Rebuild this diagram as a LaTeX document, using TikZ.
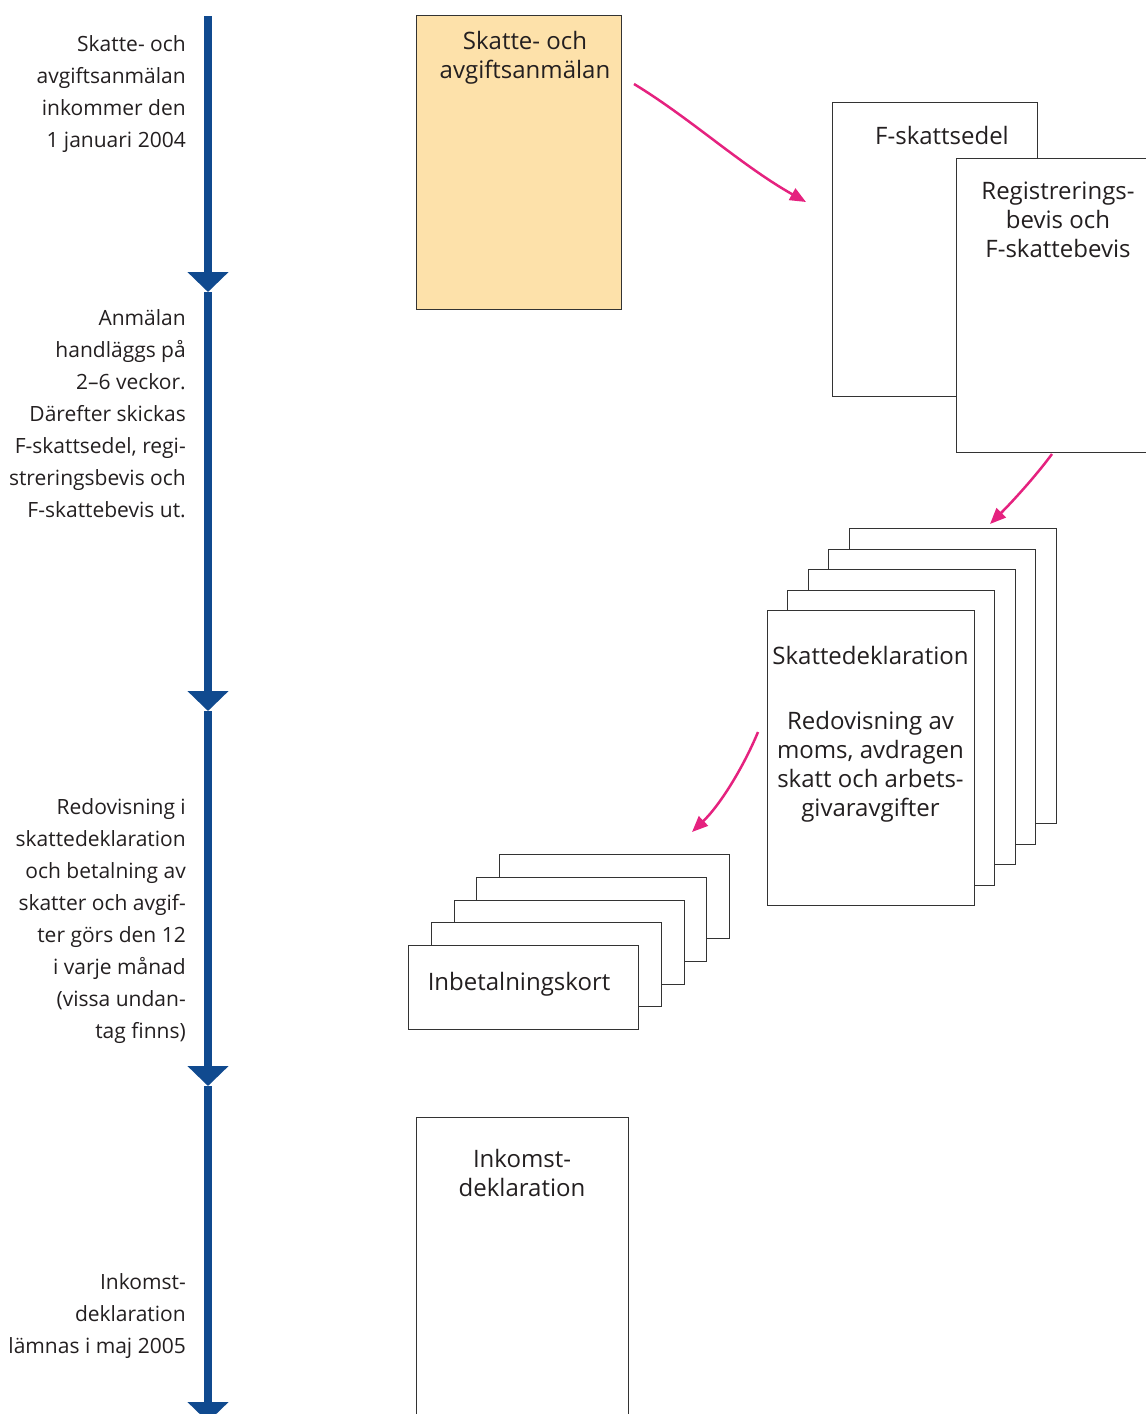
\documentclass[tikz,border=0pt]{standalone}
\usepackage{fontspec}
\setmainfont{Open Sans}
\usetikzlibrary{arrows.meta}
\definecolor{tlblue}{RGB}{16,74,143}
\definecolor{mag}{RGB}{229,34,127}
\definecolor{boxfill}{RGB}{253,225,170}
\definecolor{edge}{RGB}{51,51,51}
\definecolor{ink}{RGB}{35,31,32}
\begin{document}
\begin{tikzpicture}[x=1pt,y=-1pt,
  tl/.style={draw=tlblue,line width=8pt,-{Triangle[length=20pt,width=40pt]}},
  card/.style={draw=edge,line width=1.3pt,fill=white,rectangle,inner sep=0pt,anchor=north west},
  conn/.style={draw=mag,line width=2.5pt,-{Triangle[length=16pt,width=13pt]}},
  lefttxt/.style={anchor=north east,align=right,inner sep=0pt,text=ink,
    font=\fontsize{21}{32}\selectfont,execute at begin node=\strut},
  boxtxt/.style={anchor=north,align=center,inner sep=0pt,text=ink,
    font=\fontsize{24}{29}\selectfont,execute at begin node=\strut}]
\useasboundingbox (0,0) rectangle (1146,1414);
\clip (0,0) rectangle (1146,1414);

% timeline
\coordinate (t0) at (208,16);
\coordinate (t1) at (208,292);
\coordinate (t2) at (208,711);
\coordinate (t3) at (208,1086);
\coordinate (t4) at (208,1422);
\draw[tl] (t0) -- (t1);
\draw[tl] (t1) -- (t2);
\draw[tl] (t2) -- (t3);
\draw[tl] (t3) -- (t4);

% left texts
\node[lefttxt] (l1) at (186,35.6) {Skatte- och\\avgiftsanmälan\\inkommer den\\1 januari 2004};
\node[lefttxt] (l2) at (186,309.6) {Anmälan\\handläggs på\\2–6 veckor.\\Därefter skickas\\F-skattsedel, regi-\\streringsbevis och\\F-skattebevis ut.};
\node[lefttxt] (l3) at (186,798.6) {Redovisning i\\skattedeklaration\\och betalning av\\skatter och avgif-\\ter görs den 12\\i varje månad\\(vissa undan-\\tag finns)};
\node[lefttxt] (l4) at (186,1273.6) {Inkomst-\\deklaration\\lämnas i maj 2005};

% anmalan box
\node[card,fill=boxfill,minimum width=205pt,minimum height=294pt] (anm) at (416,15) {};
\node[boxtxt] (anmt) at (525,30.7) {Skatte- och\\avgiftsanmälan};

% F-skattsedel and registreringsbevis
\node[card,minimum width=205pt,minimum height=294pt] (fsk) at (832,102) {};
\node[boxtxt] (fskt) at (942,124.2) {F-skattsedel};
\node[card,minimum width=200pt,minimum height=294pt] (reg) at (956,158) {};
\node[boxtxt] (regt) at (1058,181.7) {Registrerings-\\bevis och\\F-skattebevis};

% Skattedeklaration stack
\node[card,minimum width=207pt,minimum height=295pt] (s5) at (849,528) {};
\node[card,minimum width=207pt,minimum height=295pt] (s4) at (828,548.5) {};
\node[card,minimum width=207pt,minimum height=295pt] (s3) at (808,569) {};
\node[card,minimum width=207pt,minimum height=295pt] (s2) at (787,589.5) {};
\node[card,minimum width=207pt,minimum height=295pt] (s1) at (767,610) {};
\node[boxtxt] (s1t) at (870.5,645.7) {Skattedeklaration\\[36pt]Redovisning av\\moms, avdragen\\skatt och arbets-\\givaravgifter};

% Inbetalningskort stack
\node[card,minimum width=230pt,minimum height=84pt] (i5) at (499,853.5) {};
\node[card,minimum width=230pt,minimum height=84pt] (i4) at (476,876.5) {};
\node[card,minimum width=230pt,minimum height=84pt] (i3) at (453.5,899.5) {};
\node[card,minimum width=230pt,minimum height=84pt] (i2) at (431,922) {};
\node[card,minimum width=230pt,minimum height=84pt] (i1) at (408,945) {};
\node[boxtxt] (i1t) at (519,969.7) {Inbetalningskort};

% Inkomstdeklaration
\node[card,minimum width=212pt,minimum height=310pt] (ink) at (416,1117) {};
\node[boxtxt] (inkt) at (522,1148.7) {Inkomst-\\deklaration};

% connectors
\coordinate (a1s) at (634,84);
\coordinate (a1e) at (806,202);
\coordinate (a2s) at (1052,454);
\coordinate (a2e) at (990,524);
\coordinate (a3s) at (758,732);
\coordinate (a3e) at (692,832);
\draw[conn] (a1s) .. controls (690,118) and (742,166) .. (a1e);
\draw[conn] (a2s) .. controls (1035,477) and (1012,502) .. (a2e);
\draw[conn] (a3s) .. controls (743,768) and (720,805) .. (a3e);
\end{tikzpicture}
\end{document}
